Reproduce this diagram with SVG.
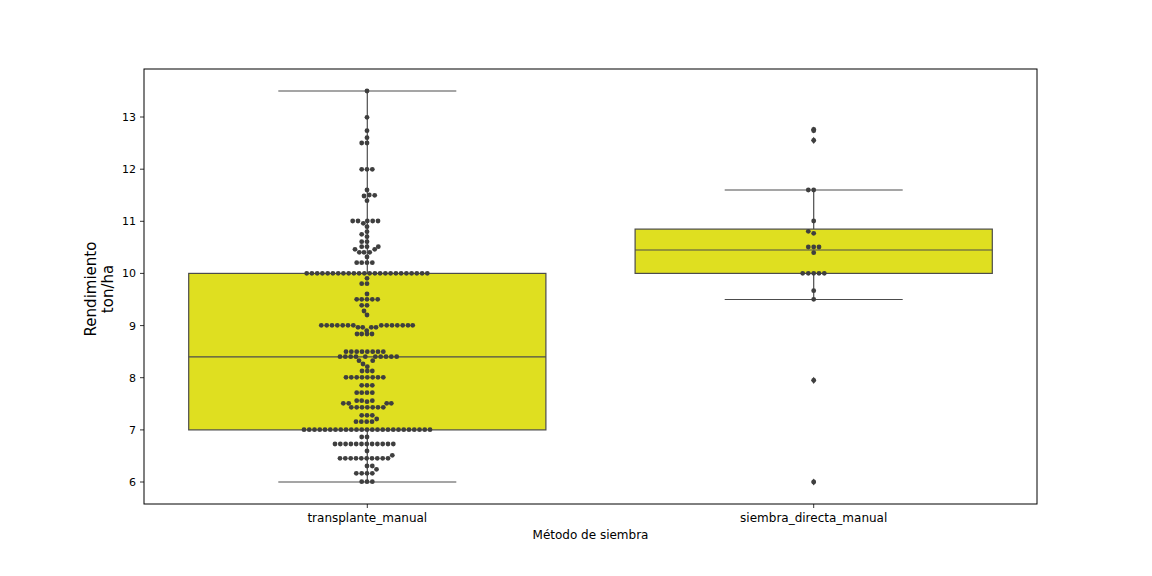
<svg xmlns="http://www.w3.org/2000/svg" width="1152" height="576" viewBox="0 0 1152 576">
<style>
.bx{fill:#dfdf20;stroke:#4c4c4c;stroke-width:1.2}
.ln{stroke:#4c4c4c;stroke-width:1.2;fill:none}
.d{fill:#3f3f3f}
.fl{fill:#3f3f3f}
.tk{stroke:#000;stroke-width:0.8}
.yt{font-family:"DejaVu Sans",sans-serif;font-size:11px;fill:#000;text-anchor:end}
.xt{font-family:"DejaVu Sans",sans-serif;font-size:12px;fill:#000;text-anchor:middle}
.lb{font-family:"DejaVu Sans",sans-serif;font-size:15px;fill:#000;text-anchor:middle}
</style>
<defs>
<circle id="c" r="2.4"/>
<polygon id="dm" points="0,-3.6 2.3,0 0,3.6 -2.3,0"/>
</defs>
<rect width="1152" height="576" fill="#fff"/>

<g id="box-transplante">
<line class="ln" x1="367.3" y1="91" x2="367.3" y2="273.4"/>
<line class="ln" x1="367.3" y1="429.9" x2="367.3" y2="482"/>
<line class="ln" x1="278.3" y1="91" x2="456.3" y2="91"/>
<line class="ln" x1="278.3" y1="482" x2="456.3" y2="482"/>
<rect class="bx" x="188.7" y="273.4" width="357.2" height="156.5"/>
<line class="ln" x1="188.7" y1="356.9" x2="545.9" y2="356.9"/>
</g>

<g id="box-siembra">
<line class="ln" x1="813.7" y1="190" x2="813.7" y2="229.1"/>
<line class="ln" x1="813.7" y1="273.4" x2="813.7" y2="299.5"/>
<line class="ln" x1="724.7" y1="190" x2="902.7" y2="190"/>
<line class="ln" x1="724.7" y1="299.5" x2="902.7" y2="299.5"/>
<rect class="bx" x="635.1" y="229.1" width="357.2" height="44.3"/>
<line class="ln" x1="635.1" y1="250" x2="992.3" y2="250"/>
<g class="fl">
<use href="#dm" x="813.7" y="130"/>
<use href="#dm" x="813.7" y="140.4"/>
<use href="#dm" x="813.7" y="380.3"/>
<use href="#dm" x="813.7" y="482"/>
</g>
</g>

<g id="swarm-transplante" class="d">
<use href="#c" x="367" y="91"/><use href="#c" x="367" y="117.3"/><use href="#c" x="367" y="130.7"/><use href="#c" x="367" y="137.7"/>
<use href="#c" x="361.7" y="143"/><use href="#c" x="367" y="143"/>
<use href="#c" x="361.7" y="169.3"/><use href="#c" x="367" y="169.3"/><use href="#c" x="372.3" y="169.3"/>
<use href="#c" x="367" y="190"/><use href="#c" x="364" y="196"/><use href="#c" x="369.3" y="195"/><use href="#c" x="374.7" y="195.3"/><use href="#c" x="367" y="200.7"/>
<use href="#c" x="352.7" y="221"/><use href="#c" x="358" y="221"/><use href="#c" x="363.3" y="223.3"/><use href="#c" x="367.3" y="221"/><use href="#c" x="372.7" y="221"/><use href="#c" x="378" y="221"/>
<use href="#c" x="367" y="226.7"/><use href="#c" x="367" y="231.7"/><use href="#c" x="361.7" y="234.3"/><use href="#c" x="367" y="236.7"/>
<use href="#c" x="361.7" y="241.7"/><use href="#c" x="367" y="241.7"/>
<use href="#c" x="361.7" y="246.7"/><use href="#c" x="367" y="246.7"/><use href="#c" x="378.3" y="246.7"/>
<use href="#c" x="355" y="249.3"/><use href="#c" x="374.7" y="249.3"/>
<use href="#c" x="359.3" y="252.3"/><use href="#c" x="364" y="252.3"/><use href="#c" x="369.7" y="252.3"/>
<use href="#c" x="367" y="257"/>
<use href="#c" x="356.7" y="262.7"/><use href="#c" x="361.7" y="262.7"/><use href="#c" x="367" y="262.7"/><use href="#c" x="372.3" y="262.7"/>
<use href="#c" x="306.7" y="273.3"/><use href="#c" x="311.9" y="273.3"/><use href="#c" x="317.2" y="273.3"/><use href="#c" x="322.4" y="273.3"/><use href="#c" x="327.7" y="273.3"/><use href="#c" x="332.9" y="273.3"/><use href="#c" x="338.2" y="273.3"/><use href="#c" x="343.4" y="273.3"/><use href="#c" x="348.7" y="273.3"/><use href="#c" x="353.9" y="273.3"/><use href="#c" x="359.1" y="273.3"/><use href="#c" x="364.4" y="273.3"/><use href="#c" x="369.6" y="273.3"/><use href="#c" x="374.9" y="273.3"/><use href="#c" x="380.1" y="273.3"/><use href="#c" x="385.4" y="273.3"/><use href="#c" x="390.6" y="273.3"/><use href="#c" x="395.9" y="273.3"/><use href="#c" x="401.1" y="273.3"/><use href="#c" x="406.4" y="273.3"/><use href="#c" x="411.6" y="273.3"/><use href="#c" x="416.8" y="273.3"/><use href="#c" x="422.1" y="273.3"/><use href="#c" x="427.3" y="273.3"/>
<use href="#c" x="367" y="278.3"/><use href="#c" x="361.7" y="283.7"/><use href="#c" x="367" y="283.7"/>
<use href="#c" x="367" y="294"/>
<use href="#c" x="356.7" y="299.3"/><use href="#c" x="361.7" y="299.3"/><use href="#c" x="367" y="299.3"/><use href="#c" x="372.3" y="299.3"/><use href="#c" x="377.7" y="299.3"/>
<use href="#c" x="361.7" y="305.3"/><use href="#c" x="367" y="305.3"/>
<use href="#c" x="364" y="311"/><use href="#c" x="367" y="315"/>
<use href="#c" x="321.3" y="325.3"/><use href="#c" x="326.7" y="325.3"/><use href="#c" x="332" y="325.3"/><use href="#c" x="337.3" y="325.3"/><use href="#c" x="342.7" y="325.3"/><use href="#c" x="348" y="325.3"/><use href="#c" x="353.3" y="325.3"/>
<use href="#c" x="358" y="327.3"/><use href="#c" x="362.7" y="327.3"/><use href="#c" x="366.7" y="330.7"/><use href="#c" x="371.3" y="327.3"/><use href="#c" x="376" y="327.3"/>
<use href="#c" x="381.3" y="325.3"/><use href="#c" x="386.7" y="325.3"/><use href="#c" x="392" y="325.3"/><use href="#c" x="397.3" y="325.3"/><use href="#c" x="402.7" y="325.3"/><use href="#c" x="408" y="325.3"/><use href="#c" x="412.7" y="325.3"/>
<use href="#c" x="357" y="334"/><use href="#c" x="361.7" y="334"/><use href="#c" x="367" y="334"/><use href="#c" x="372" y="334"/>
<use href="#c" x="346" y="351.7"/><use href="#c" x="351.3" y="351.7"/><use href="#c" x="356.7" y="351.7"/><use href="#c" x="362" y="351.7"/><use href="#c" x="367.3" y="351.7"/><use href="#c" x="372.7" y="351.7"/><use href="#c" x="378" y="351.7"/><use href="#c" x="383.3" y="351.7"/>
<use href="#c" x="340" y="356.7"/><use href="#c" x="345.3" y="356.7"/><use href="#c" x="350.7" y="356.7"/><use href="#c" x="356" y="356.7"/><use href="#c" x="365.3" y="356.7"/><use href="#c" x="375.3" y="356.7"/><use href="#c" x="380.7" y="356.7"/><use href="#c" x="386" y="356.7"/><use href="#c" x="391.3" y="356.7"/><use href="#c" x="396.7" y="356.7"/>
<use href="#c" x="359" y="360.7"/><use href="#c" x="372.7" y="360.7"/><use href="#c" x="363" y="364"/><use href="#c" x="367.3" y="366.7"/>
<use href="#c" x="362" y="371"/><use href="#c" x="367.3" y="371"/><use href="#c" x="372.3" y="371"/>
<use href="#c" x="346" y="377.3"/><use href="#c" x="351.3" y="377.3"/><use href="#c" x="356.7" y="377.3"/><use href="#c" x="362" y="377.3"/><use href="#c" x="367.3" y="377.3"/><use href="#c" x="372.7" y="377.3"/><use href="#c" x="378" y="377.3"/><use href="#c" x="383.3" y="377.3"/>
<use href="#c" x="361.7" y="385.3"/><use href="#c" x="367" y="385.3"/><use href="#c" x="372.3" y="385.3"/>
<use href="#c" x="356.7" y="392.7"/><use href="#c" x="361.7" y="392.7"/><use href="#c" x="367" y="392.7"/><use href="#c" x="372.3" y="392.7"/>
<use href="#c" x="356.7" y="400.7"/><use href="#c" x="361.7" y="400.7"/><use href="#c" x="367" y="401.7"/><use href="#c" x="372.3" y="400.7"/>
<use href="#c" x="343.3" y="403.3"/><use href="#c" x="348.7" y="403.3"/><use href="#c" x="386.7" y="403.3"/><use href="#c" x="391.3" y="403.3"/>
<use href="#c" x="351.3" y="407.3"/><use href="#c" x="356.7" y="407.3"/><use href="#c" x="362" y="407.3"/><use href="#c" x="367.3" y="407.3"/><use href="#c" x="372.7" y="407.3"/><use href="#c" x="378" y="407.3"/><use href="#c" x="383.3" y="407.3"/>
<use href="#c" x="361.7" y="415.3"/><use href="#c" x="367" y="415.3"/><use href="#c" x="372.3" y="415.3"/>
<use href="#c" x="376.7" y="419"/><use href="#c" x="356" y="421.7"/><use href="#c" x="361.3" y="421.7"/><use href="#c" x="366.7" y="421.7"/><use href="#c" x="372" y="421.7"/>
<use href="#c" x="304" y="429.7"/><use href="#c" x="309.25" y="429.7"/><use href="#c" x="314.5" y="429.7"/><use href="#c" x="319.75" y="429.7"/><use href="#c" x="325" y="429.7"/><use href="#c" x="330.25" y="429.7"/><use href="#c" x="335.5" y="429.7"/><use href="#c" x="340.75" y="429.7"/><use href="#c" x="346" y="429.7"/><use href="#c" x="351.25" y="429.7"/><use href="#c" x="356.5" y="429.7"/><use href="#c" x="361.75" y="429.7"/><use href="#c" x="367" y="429.7"/><use href="#c" x="372.25" y="429.7"/><use href="#c" x="377.5" y="429.7"/><use href="#c" x="382.75" y="429.7"/><use href="#c" x="388" y="429.7"/><use href="#c" x="393.25" y="429.7"/><use href="#c" x="398.5" y="429.7"/><use href="#c" x="403.75" y="429.7"/><use href="#c" x="409" y="429.7"/><use href="#c" x="414.25" y="429.7"/><use href="#c" x="419.5" y="429.7"/><use href="#c" x="424.75" y="429.7"/><use href="#c" x="430" y="429.7"/>
<use href="#c" x="361.7" y="437"/><use href="#c" x="367" y="437"/>
<use href="#c" x="335" y="444"/><use href="#c" x="340.3" y="444"/><use href="#c" x="345.6" y="444"/><use href="#c" x="350.9" y="444"/><use href="#c" x="356.2" y="444"/><use href="#c" x="361.5" y="444"/><use href="#c" x="366.8" y="444"/><use href="#c" x="372.1" y="444"/><use href="#c" x="377.4" y="444"/><use href="#c" x="382.7" y="444"/><use href="#c" x="388" y="444"/><use href="#c" x="393.3" y="444"/>
<use href="#c" x="367" y="451"/>
<use href="#c" x="340" y="458.3"/><use href="#c" x="345.3" y="458.3"/><use href="#c" x="350.7" y="458.3"/><use href="#c" x="356" y="458.3"/><use href="#c" x="361.3" y="458.3"/><use href="#c" x="366.7" y="458.3"/><use href="#c" x="372" y="458.3"/><use href="#c" x="377.3" y="458.3"/><use href="#c" x="382.7" y="458.3"/><use href="#c" x="388" y="458.3"/><use href="#c" x="392.3" y="455.3"/>
<use href="#c" x="367" y="466"/><use href="#c" x="372.3" y="466"/><use href="#c" x="376.5" y="469.3"/>
<use href="#c" x="356.3" y="473.3"/><use href="#c" x="361.7" y="473.3"/><use href="#c" x="367" y="473.3"/><use href="#c" x="372.3" y="473.3"/>
<use href="#c" x="361.7" y="481.7"/><use href="#c" x="367" y="481.7"/><use href="#c" x="372.3" y="481.7"/>
</g>

<g id="swarm-siembra" class="d">
<use href="#c" x="813.7" y="129.3"/><use href="#c" x="813.7" y="130.7"/><use href="#c" x="813.7" y="140.3"/>
<use href="#c" x="808.3" y="190"/><use href="#c" x="813.7" y="190"/>
<use href="#c" x="813.7" y="221"/>
<use href="#c" x="808.3" y="231.3"/><use href="#c" x="813.7" y="233.3"/>
<use href="#c" x="808.3" y="247"/><use href="#c" x="813.7" y="247"/><use href="#c" x="819" y="247"/>
<use href="#c" x="813.7" y="252.7"/>
<use href="#c" x="802.7" y="273.3"/><use href="#c" x="808.3" y="273.3"/><use href="#c" x="813.7" y="273.3"/><use href="#c" x="819" y="273.3"/><use href="#c" x="824.3" y="273.3"/>
<use href="#c" x="813.7" y="290.7"/><use href="#c" x="813.7" y="299.3"/>
<use href="#c" x="813.7" y="380.3"/><use href="#c" x="813.7" y="482"/>
</g>

<g id="axes">
<rect x="144" y="69" width="893" height="435" fill="none" stroke="#000" stroke-width="1"/>
<g class="tk">
<line x1="140" y1="482" x2="144" y2="482"/><line x1="140" y1="429.9" x2="144" y2="429.9"/><line x1="140" y1="377.7" x2="144" y2="377.7"/><line x1="140" y1="325.6" x2="144" y2="325.6"/><line x1="140" y1="273.4" x2="144" y2="273.4"/><line x1="140" y1="221.3" x2="144" y2="221.3"/><line x1="140" y1="169.2" x2="144" y2="169.2"/><line x1="140" y1="117" x2="144" y2="117"/>
<line x1="367.3" y1="504" x2="367.3" y2="508"/><line x1="813.7" y1="504" x2="813.7" y2="508"/>
</g>
<g class="yt">
<text x="136" y="486">6</text><text x="136" y="433.9">7</text><text x="136" y="381.7">8</text><text x="136" y="329.6">9</text><text x="136" y="277.4">10</text><text x="136" y="225.3">11</text><text x="136" y="173.2">12</text><text x="136" y="121">13</text>
</g>
<g class="xt">
<text x="367.3" y="522">transplante_manual</text>
<text x="813.7" y="522">siembra_directa_manual</text>
<text x="590.5" y="539">Método de siembra</text>
</g>
<text class="lb" transform="translate(95.5,289) rotate(-90)">Rendimiento</text>
<text class="lb" transform="translate(113,289) rotate(-90)">ton/ha</text>
</g>
</svg>
